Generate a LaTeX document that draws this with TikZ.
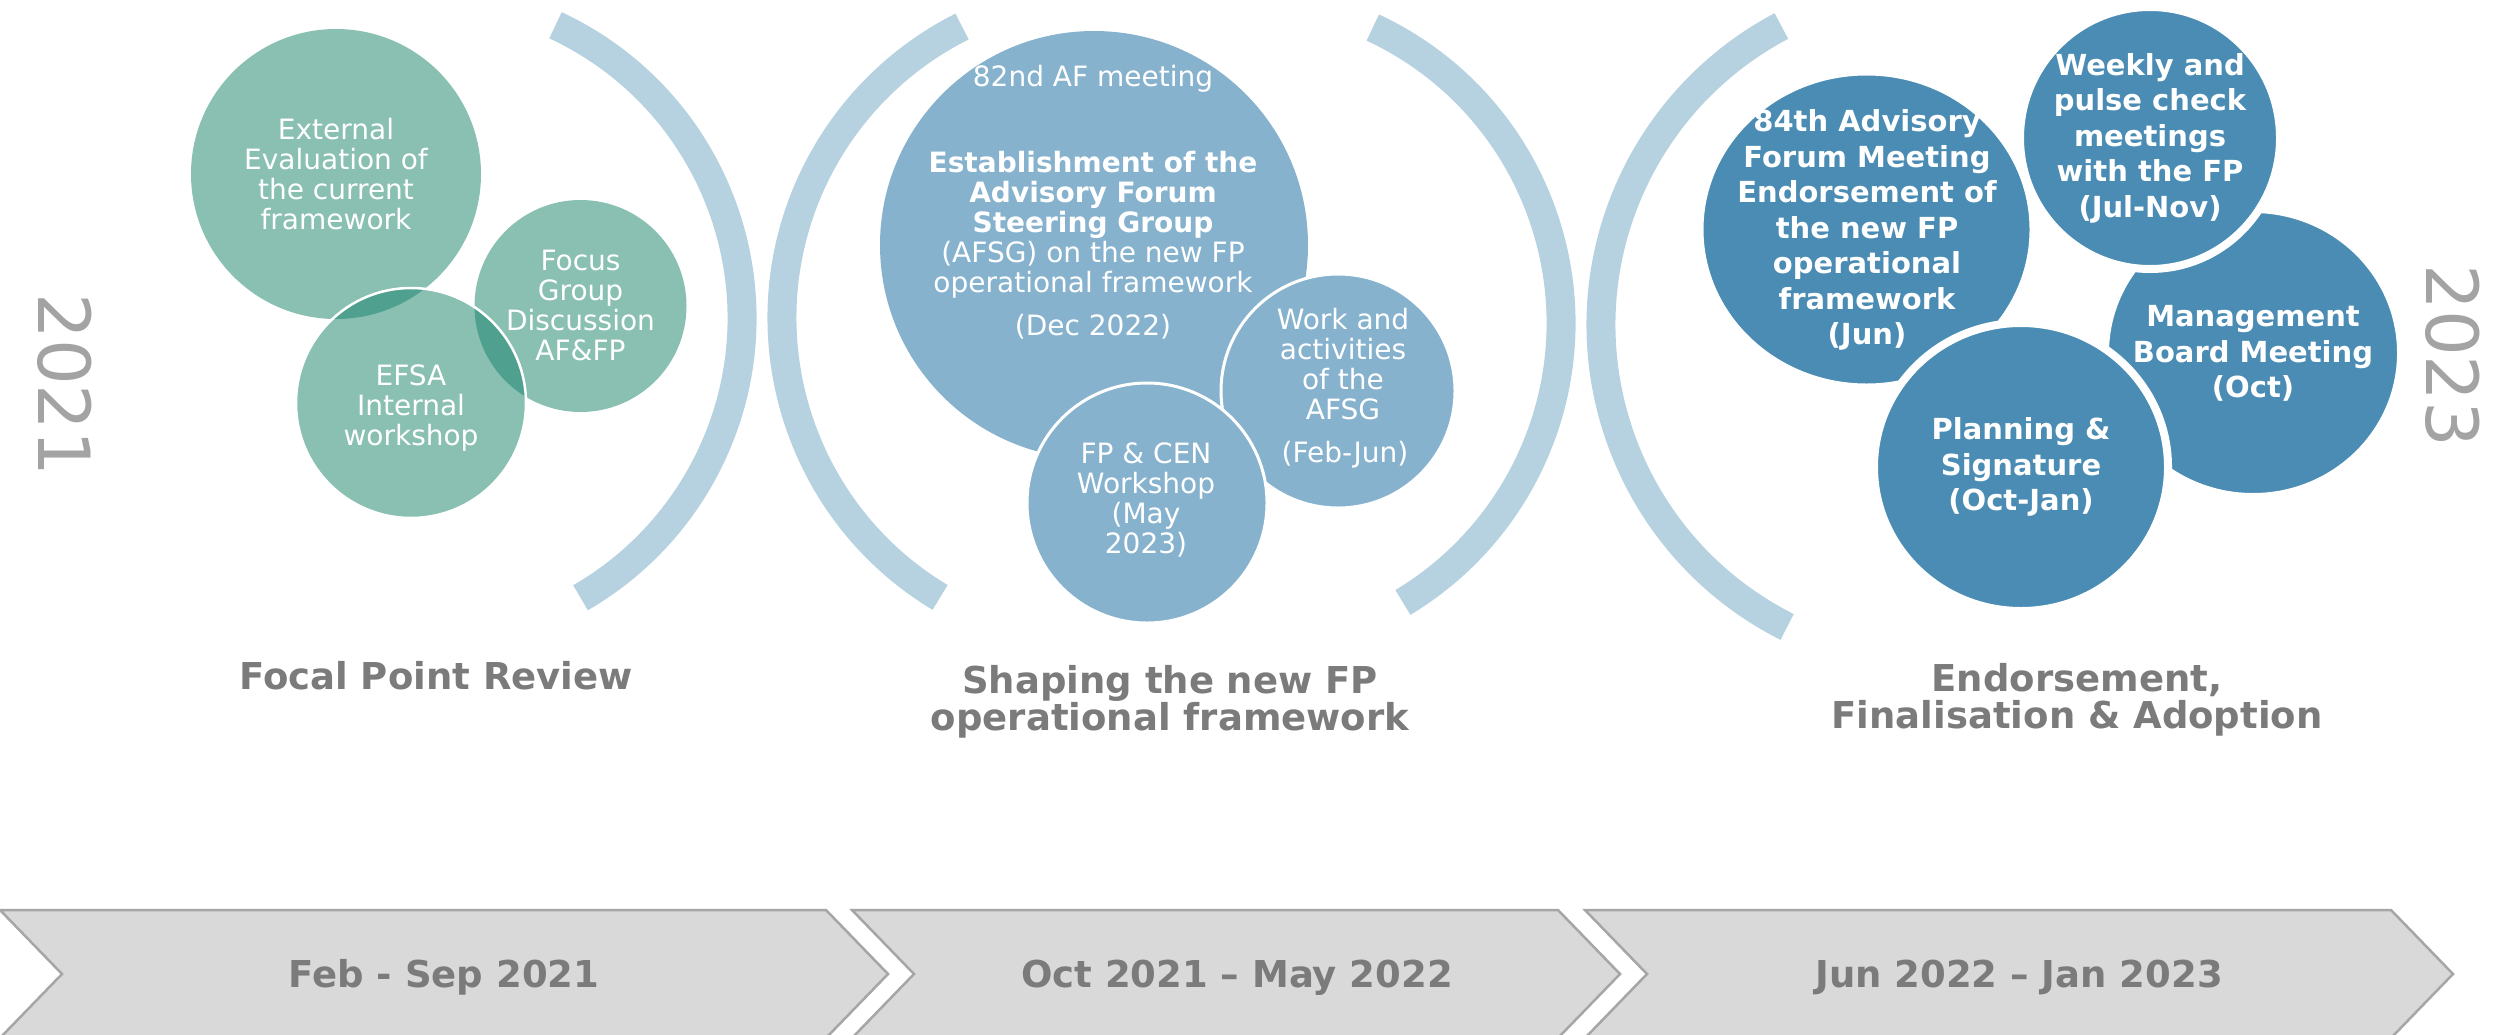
\documentclass[tikz,border=0pt]{standalone}
\usepackage{fontspec}
\setmainfont{DejaVu Sans}
\usetikzlibrary{shapes.geometric}
\definecolor{tealL}{HTML}{89C0B2}
\definecolor{tealD}{HTML}{4FA08F}
\definecolor{blueM}{HTML}{86B2CE}
\definecolor{blueD}{HTML}{4A8CB3}
\definecolor{arcC}{HTML}{B6D2E0}
\definecolor{yearC}{HTML}{A3A3A3}
\definecolor{titleC}{HTML}{7B7B7B}
\definecolor{chevF}{HTML}{D9D9D9}
\definecolor{chevB}{HTML}{A6A6A6}
\begin{document}
\begin{tikzpicture}[x=1pt,y=-1pt,
  bracket/.style={draw=arcC, line width=29pt},
  txtA/.style={text=white, align=center, font=\fontsize{28}{30}\selectfont, inner sep=0pt},
  txtB/.style={text=white, align=center, font=\fontsize{29}{35.5}\selectfont\bfseries, inner sep=0pt},
  ttl/.style={text=titleC, align=center, font=\fontsize{37}{37.5}\selectfont\bfseries, inner sep=0pt},
  chev/.style={fill=chevF, draw=chevB, line width=2.5pt},
  chevtxt/.style={text=titleC, font=\fontsize{37}{40}\selectfont\bfseries, inner sep=0pt, anchor=base},
  yeartxt/.style={text=yearC, font=\fontsize{72}{72}\selectfont, rotate=-90, inner sep=0pt},
  bubble/.style={draw=white, line width=8pt, fill=blueD}]
\useasboundingbox (0,0) rectangle (2503,1034);
\fill[white] (0,0) rectangle (2503,1034);

% brackets
\draw[bracket] (419,318) ++(-65:323) arc[start angle=-65, end angle=60, radius=323];
\draw[bracket] (1108,318) ++(121:326) arc[start angle=121, end angle=243.4, radius=326];
\draw[bracket] (1235,323) ++(-65:326) arc[start angle=-65, end angle=59, radius=326];
\draw[bracket] (1939,325) ++(116.7:338) arc[start angle=116.7, end angle=242.2, radius=338];

% section 1
\fill[tealL] (336,174) circle[radius=145];
\fill[tealL] (580.5,306) circle[radius=106];
\fill[tealL] (411,403) circle[radius=115];
\begin{scope}
  \clip (411,403) circle[radius=115];
  \fill[tealD] (336,174) circle[radius=145];
  \fill[tealD] (580.5,306) circle[radius=106];
\end{scope}
\draw[white, line width=2.5pt] (411,403) circle[radius=115];
\node[txtA] (ext) at (336,174.5) {External\\Evaluation of\\the current\\framework};
\node[txtA] (foc) at (580.5,305.4) {Focus\\Group\\Discussion\\AF\&FP};
\node[txtA] (efsa) at (411,407.8) {EFSA\\Internal\\workshop};

% section 2
\fill[blueM] (1094,245) circle[radius=214];
\draw[white, line width=3pt, fill=blueM] (1338,391) circle[radius=117];
\draw[white, line width=3pt, fill=blueM] (1147,503) circle[radius=120];
\node[txtA, anchor=base] (af82) at (1093,86.6) {82nd AF meeting};
\node[txtA] (afsg) at (1093,224.3) {\textbf{Establishment of the}\\\textbf{Advisory Forum}\\\textbf{Steering Group}\\(AFSG) on the new FP\\operational framework};
\node[txtA, anchor=base] (dec) at (1093,335.6) {(Dec 2022)};
\node[txtA] (work) at (1343,364) {Work and\\activities\\of the\\AFSG};
\node[txtA, anchor=base] (febjun) at (1345,462.6) {(Feb-Jun)};
\node[txtA] (cen) at (1146,499.7) {FP \& CEN\\Workshop\\(May\\2023)};

% section 3
\draw[bubble] (2253,353) ellipse[x radius=148, y radius=144];
\draw[bubble] (2150,138) ellipse[x radius=130, y radius=131];
\draw[bubble] (1866.5,229.5) ellipse[x radius=167, y radius=158];
\draw[bubble] (2021,467) ellipse[x radius=147, y radius=144];
\node[txtB] (af84) at (1867,230.2) {84th Advisory\\Forum Meeting\\Endorsement of\\the new FP\\operational\\framework\\(Jun)};
\node[txtB] (weekly) at (2150,138.2) {Weekly and\\pulse check\\meetings\\with the FP\\(Jul-Nov)};
\node[txtB] (mb) at (2253,353.6) {Management\\Board Meeting\\(Oct)};
\node[txtB] (plan) at (2021,467.2) {Planning \&\\Signature\\(Oct-Jan)};

% years
\node[yeartxt] (y1) at (65,385) {2021};
\node[yeartxt] (y3) at (2453,356) {2023};

% titles
\node[ttl, anchor=base] (t1) at (436,689) {Focal Point Review};
\node[ttl] (t2) at (1170,701.8) {Shaping the new FP\\operational framework};
\node[ttl] (t3) at (2077,700) {Endorsement,\\Finalisation \& Adoption};

% chevrons
\draw[chev] (0,910) -- (826,910) -- (888,974) -- (826,1038) -- (0,1038) -- (62,974) -- cycle;
\draw[chev] (852,910) -- (1558,910) -- (1620,974) -- (1558,1038) -- (852,1038) -- (914,974) -- cycle;
\draw[chev] (1585,910) -- (2391,910) -- (2453,974) -- (2391,1038) -- (1585,1038) -- (1647,974) -- cycle;
\node[chevtxt] (c1) at (444,987.5) {Feb - Sep 2021};
\node[chevtxt] (c2) at (1237,987.5) {Oct 2021 – May 2022};
\node[chevtxt] (c3) at (2019,987.5) {Jun 2022 – Jan 2023};
\end{tikzpicture}
\end{document}
